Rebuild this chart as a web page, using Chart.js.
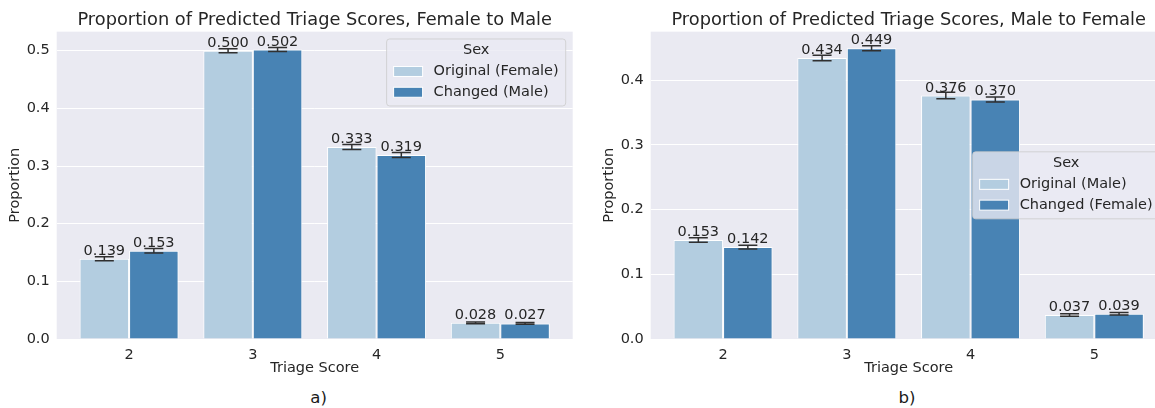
<!DOCTYPE html>
<html>
<head>
<meta charset="utf-8">
<script src="https://cdn.jsdelivr.net/npm/chart.js@4.4.1/dist/chart.umd.min.js"></script>
<style>
  html, body { margin: 0; padding: 0; background: #fff; overflow: hidden; }
  body { width: 1155px; height: 408px; position: relative; }
  .panel { position: absolute; top: 0; width: 594px; height: 380px; }
  .caption { position: absolute; top: 390px; font-family: 'DejaVu Sans'; font-size: 16.6px; line-height: 1; color: #1a1a1a; transform: translateX(-50%); white-space: nowrap; }
</style>
</head>
<body>
<div class="panel" style="left:0"><canvas id="chartA"></canvas></div>
<div class="panel" style="left:594px"><canvas id="chartB"></canvas></div>
<div class="caption" style="left:318.7px">a)</div>
<div class="caption" style="left:907px">b)</div>
<script>
const triageScores = ['2', '3', '4', '5'];

// a) Female to Male
const origFemale = [0.139, 0.500, 0.333, 0.028];
const origFemaleErr = [0.0035, 0.0035, 0.0043, 0.0015];
const changedMale = [0.153, 0.502, 0.319, 0.027];
const changedMaleErr = [0.0038, 0.0035, 0.0043, 0.0015];

// b) Male to Female
const origMale = [0.153, 0.434, 0.376, 0.037];
const origMaleErr = [0.0034, 0.0044, 0.005, 0.002];
const changedFemale = [0.142, 0.449, 0.370, 0.039];
const changedFemaleErr = [0.0028, 0.0039, 0.0039, 0.002];

const LIGHT = 'rgb(179,205,224)';
const DARK = 'rgb(72,131,180)';
const TEXT = '#262626';

Chart.defaults.font.family = "'DejaVu Sans'";
Chart.defaults.font.size = 14.5;
Chart.defaults.color = TEXT;

// grey plot background like seaborn darkgrid
const plotBg = {
    id: 'plotBg',
    beforeDraw(chart) {
        const { ctx, chartArea: a } = chart;
        ctx.save();
        ctx.fillStyle = '#eaeaf2';
        ctx.fillRect(a.left, a.top, a.right - a.left, a.bottom - a.top);
        ctx.restore();
    }
};

// error bars + value labels on top of each bar
const barExtras = {
    id: 'barExtras',
    afterDatasetsDraw(chart) {
        const { ctx } = chart;
        const yScale = chart.scales.y;
        ctx.save();
        chart.data.datasets.forEach((ds, d) => {
            const meta = chart.getDatasetMeta(d);
            meta.data.forEach((bar, i) => {
                const v = ds.data[i];
                const e = ds.errors[i];
                const hi = yScale.getPixelForValue(v + e);
                const lo = yScale.getPixelForValue(v - e);
                const cap = 9.5;
                ctx.strokeStyle = '#303030';
                ctx.lineWidth = 1.5;
                ctx.beginPath();
                ctx.moveTo(bar.x, hi); ctx.lineTo(bar.x, lo);
                ctx.moveTo(bar.x - cap, hi); ctx.lineTo(bar.x + cap, hi);
                ctx.moveTo(bar.x - cap, lo); ctx.lineTo(bar.x + cap, lo);
                ctx.stroke();
            });
        });
        ctx.fillStyle = TEXT;
        ctx.font = "14.5px 'DejaVu Sans'";
        ctx.textAlign = 'center';
        ctx.textBaseline = 'alphabetic';
        chart.data.datasets.forEach((ds, d) => {
            chart.getDatasetMeta(d).data.forEach((bar, i) => {
                ctx.fillText(ds.data[i].toFixed(3), bar.x, bar.y - 4);
            });
        });
        ctx.restore();
    }
};

// boxed legend with a centred "Sex" title
const sexLegend = {
    id: 'sexLegend',
    afterDraw(chart, args, opts) {
        const { ctx, chartArea: a } = chart;
        const items = chart.data.datasets.map(ds => ({ text: ds.label, color: ds.backgroundColor }));
        ctx.save();
        ctx.font = "14.5px 'DejaVu Sans'";
        const textW = Math.max(...items.map(it => ctx.measureText(it.text).width));
        const pad = 7, sw = 29, sh = 10, gap = 11;
        const w = pad + sw + gap + textW + pad;
        const h = 67;
        const x = a.right - 7 - w;
        const y = opts.loc === 'upper right' ? a.top + 7.3 : (a.top + a.bottom) / 2 - h / 2;

        ctx.beginPath();
        ctx.roundRect(x, y, w, h, 3);
        ctx.fillStyle = 'rgba(234,234,242,0.8)';
        ctx.fill();
        ctx.strokeStyle = 'rgba(204,204,204,0.8)';
        ctx.lineWidth = 1;
        ctx.stroke();

        ctx.fillStyle = TEXT;
        ctx.textBaseline = 'middle';
        ctx.textAlign = 'center';
        ctx.fillText('Sex', x + w / 2, y + 11.7);

        ctx.textAlign = 'left';
        items.forEach((it, k) => {
            const ry = y + 32.5 + k * 20.8;
            ctx.fillStyle = it.color;
            ctx.fillRect(x + pad, ry - sh / 2, sw, sh);
            ctx.strokeStyle = '#fff';
            ctx.strokeRect(x + pad, ry - sh / 2, sw, sh);
            ctx.fillStyle = TEXT;
            ctx.fillText(it.text, x + pad + sw + gap, ry);
        });
        ctx.restore();
    }
};

function makeChart(id, title, origLabel, orig, origErr, chLabel, changed, changedErr, yMax, legendLoc) {
    return new Chart(document.getElementById(id), {
        type: 'bar',
        data: {
            labels: triageScores,
            datasets: [
                { label: origLabel, data: orig, errors: origErr, backgroundColor: LIGHT, borderColor: '#fff', borderWidth: 1 },
                { label: chLabel, data: changed, errors: changedErr, backgroundColor: DARK, borderColor: '#fff', borderWidth: 1 }
            ]
        },
        options: {
            responsive: true,
            maintainAspectRatio: false,
            animation: false,
            layout: { padding: { left: 0, right: 21.3, top: 0, bottom: 0 } },
            datasets: { bar: { categoryPercentage: 0.8, barPercentage: 1.0 } },
            scales: {
                x: {
                    type: 'linear',
                    offset: false,
                    min: 1.415,
                    max: 5.585,
                    grid: { display: false, offset: false },
                    border: { display: false },
                    afterBuildTicks: s => { s.ticks = triageScores.map(t => ({ value: Number(t) })); },
                    afterFit: s => { s.height = 41; },
                    ticks: { padding: 0, callback: v => String(v) },
                    title: { display: true, text: 'Triage Score', padding: { top: 0, bottom: 3 } }
                },
                y: {
                    min: 0,
                    max: yMax,
                    grid: { color: '#ffffff', lineWidth: 1, drawTicks: false },
                    border: { display: false },
                    afterFit: s => { s.width = 56.7; },
                    ticks: { stepSize: 0.1, includeBounds: false, padding: 7, callback: v => v.toFixed(1) },
                    title: { display: true, text: 'Proportion', padding: { top: 6.8, bottom: 0 } }
                }
            },
            plugins: {
                legend: { display: false },
                tooltip: { enabled: false },
                title: {
                    display: true,
                    fullSize: false,
                    text: title,
                    color: TEXT,
                    font: { size: 17.8, weight: 'normal' },
                    padding: { top: 10, bottom: 0.3 }
                },
                sexLegend: { loc: legendLoc }
            }
        },
        plugins: [plotBg, barExtras, sexLegend]
    });
}

makeChart('chartA', 'Proportion of Predicted Triage Scores, Female to Male',
    'Original (Female)', origFemale, origFemaleErr,
    'Changed (Male)', changedMale, changedMaleErr, 0.533, 'upper right');

makeChart('chartB', 'Proportion of Predicted Triage Scores, Male to Female',
    'Original (Male)', origMale, origMaleErr,
    'Changed (Female)', changedFemale, changedFemaleErr, 0.4747, 'center right');
</script>
</body>
</html>
